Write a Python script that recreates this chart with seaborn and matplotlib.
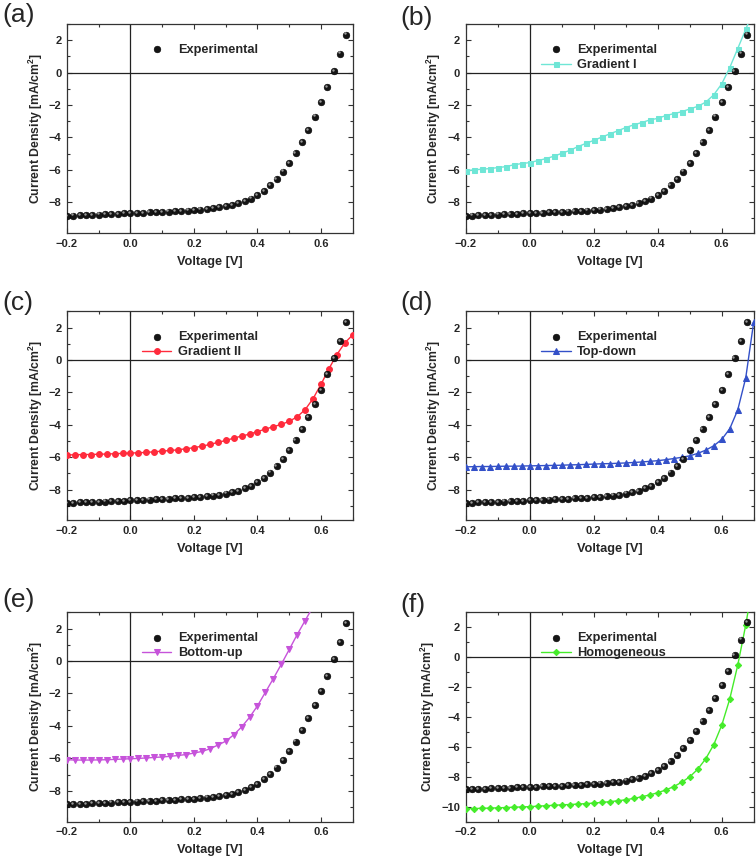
import numpy as np
import matplotlib
matplotlib.use('Agg')
from matplotlib import pyplot as plt
from matplotlib import transforms
from matplotlib.ticker import MultipleLocator
import seaborn as sns

# measured J-V curve (every 0.02 V)
v_exp = [-0.20, -0.18, -0.16, -0.14, -0.12, -0.10, -0.08, -0.06, -0.04, -0.02,
         0.00, 0.02, 0.04, 0.06, 0.08, 0.10, 0.12, 0.14, 0.16, 0.18,
         0.20, 0.22, 0.24, 0.26, 0.28, 0.30, 0.32, 0.34, 0.36, 0.38,
         0.40, 0.42, 0.44, 0.46, 0.48, 0.50, 0.52, 0.54, 0.56, 0.58,
         0.60, 0.62, 0.64, 0.66, 0.68]
j_exp = [-8.83, -8.82, -8.80, -8.79, -8.77, -8.76, -8.74, -8.72, -8.70, -8.69,
         -8.67, -8.66, -8.64, -8.62, -8.61, -8.59, -8.57, -8.55, -8.53, -8.51,
         -8.48, -8.45, -8.41, -8.37, -8.32, -8.25, -8.17, -8.07, -7.93, -7.77,
         -7.56, -7.28, -6.95, -6.56, -6.10, -5.56, -4.96, -4.27, -3.53, -2.71,
         -1.84, -0.90, 0.12, 1.18, 2.35]

# simulated curves (every 0.025 V)
v_sim = [-0.200, -0.175, -0.150, -0.125, -0.100, -0.075, -0.050, -0.025,
         0.000, 0.025, 0.050, 0.075, 0.100, 0.125, 0.150, 0.175,
         0.200, 0.225, 0.250, 0.275, 0.300, 0.325, 0.350, 0.375,
         0.400, 0.425, 0.450, 0.475, 0.500, 0.525, 0.550, 0.575,
         0.600, 0.625, 0.650, 0.675, 0.700]

j_grad1 = [-6.06, -6.00, -5.96, -5.92, -5.86, -5.80, -5.69, -5.61, -5.55, -5.43,
           -5.31, -5.16, -4.98, -4.80, -4.57, -4.37, -4.18, -3.98, -3.78, -3.59,
           -3.39, -3.22, -3.08, -2.92, -2.82, -2.65, -2.53, -2.41, -2.24, -2.08,
           -1.82, -1.37, -0.69, 0.31, 1.49, 2.67, 3.90]
j_grad2 = [-5.86, -5.86, -5.84, -5.84, -5.82, -5.81, -5.79, -5.77, -5.75, -5.73,
           -5.71, -5.67, -5.63, -5.59, -5.55, -5.48, -5.42, -5.32, -5.22, -5.09,
           -4.97, -4.83, -4.70, -4.58, -4.42, -4.27, -4.12, -3.98, -3.79, -3.51,
           -3.07, -2.39, -1.51, -0.54, 0.33, 1.05, 1.55]
j_topdown = [-6.60, -6.59, -6.58, -6.58, -6.57, -6.56, -6.56, -6.55, -6.54, -6.53,
             -6.52, -6.51, -6.50, -6.48, -6.47, -6.45, -6.43, -6.41, -6.40, -6.38,
             -6.36, -6.33, -6.30, -6.26, -6.22, -6.16, -6.09, -6.01, -5.92, -5.77,
             -5.57, -5.30, -4.91, -4.25, -3.09, -1.11, 2.35]
j_bottomup = [-6.08, -6.10, -6.10, -6.10, -6.09, -6.08, -6.06, -6.04, -6.02, -6.00,
              -5.97, -5.94, -5.91, -5.87, -5.82, -5.76, -5.67, -5.57, -5.41, -5.18,
              -4.94, -4.55, -4.06, -3.47, -2.76, -1.92, -1.08, -0.20, 0.71, 1.63,
              2.49, 3.35]
j_homog = [-10.13, -10.12, -10.10, -10.09, -10.07, -10.05, -10.03, -10.01, -9.99, -9.96,
           -9.93, -9.90, -9.87, -9.85, -9.82, -9.79, -9.75, -9.71, -9.66, -9.60,
           -9.53, -9.44, -9.33, -9.21, -9.06, -8.88, -8.65, -8.36, -8.00, -7.49,
           -6.79, -5.85, -4.55, -2.80, -0.54, 2.15, 5.30]

panel_tags = ['(a)', '(b)', '(c)', '(d)', '(e)', '(f)']
sim_names = [None, 'Gradient I', 'Gradient II', 'Top-down', 'Bottom-up', 'Homogeneous']
sim_data = [None, j_grad1, j_grad2, j_topdown, j_bottomup, j_homog]
sim_colors = [None, '#6FE6D6', '#FF2B3C', '#3350C8', '#C653DA', '#45EC2A']
sim_markers = [None, 's', 'o', '^', 'v', 'D']
sim_msize = [None, 3.6, 4.2, 4.2, 4.2, 3.2]
y_bottom = [-9.9, -9.9, -9.9, -9.9, -9.9, -11.0]

sns.set_style('ticks')
plt.rcParams['font.family'] = ['Liberation Sans', 'DejaVu Sans']
plt.rcParams['mathtext.fontset'] = 'custom'
plt.rcParams['mathtext.bf'] = 'Liberation Sans:bold'
plt.rcParams['mathtext.rm'] = 'Liberation Sans:bold'

fig = plt.figure(figsize=(7.56, 8.6), dpi=100)
rects = [[0.0886, 0.729, 0.378, 0.243], [0.616, 0.729, 0.381, 0.243],
         [0.0886, 0.395, 0.378, 0.243], [0.616, 0.395, 0.381, 0.243],
         [0.0886, 0.0445, 0.378, 0.2435], [0.616, 0.0445, 0.381, 0.2435]]
tag_pos = [(0.003, 0.996), (0.530, 0.993), (0.003, 0.662), (0.530, 0.662),
           (0.003, 0.316), (0.530, 0.310)]

for i in range(6):
    ax = fig.add_axes(rects[i])
    ax.axhline(0, color='#222222', lw=0.9, zorder=1)
    ax.axvline(0, color='#222222', lw=0.9, zorder=1)

    # experimental points drawn as shaded balls
    sns.scatterplot(x=v_exp, y=j_exp, ax=ax, s=23, color='#151515',
                    edgecolor='#000000', linewidth=0.4, label='Experimental', zorder=4)
    hl = transforms.offset_copy(ax.transData, fig=fig, x=-0.8, y=0.8, units='points')
    ax.scatter(v_exp, j_exp, s=3, color='#9a9a9a', linewidths=0, transform=hl, zorder=5)

    if sim_data[i] is not None:
        vv = v_sim[:len(sim_data[i])]
        sns.lineplot(x=vv, y=sim_data[i], ax=ax, color=sim_colors[i], lw=1.0,
                     marker=sim_markers[i], markersize=sim_msize[i],
                     markeredgecolor=sim_colors[i], label=sim_names[i], zorder=3)

    ax.set_xlim(-0.2, 0.7)
    ax.set_ylim(y_bottom[i], 3)
    ax.xaxis.set_major_locator(MultipleLocator(0.2))
    ax.xaxis.set_minor_locator(MultipleLocator(0.1))
    ax.yaxis.set_major_locator(MultipleLocator(2))
    ax.yaxis.set_minor_locator(MultipleLocator(1))
    ax.tick_params(which='both', direction='in', top=True, right=True,
                   width=0.8, color='#333333', labelsize=8, pad=4)
    ax.tick_params(which='major', length=3.5)
    ax.tick_params(which='minor', length=2)
    for lab in ax.get_xticklabels() + ax.get_yticklabels():
        lab.set_fontweight('bold')
    for sp in ax.spines.values():
        sp.set_color('#333333')
        sp.set_linewidth(0.9)

    ax.set_xlabel('Voltage [V]', fontsize=9.2, fontweight='bold', labelpad=5)
    ax.set_ylabel(r'Current Density [mA/cm$^\mathbf{2}$]', fontsize=8.8,
                  fontweight='bold', labelpad=3)

    leg = ax.legend(loc='upper left', bbox_to_anchor=(0.245, 0.93), frameon=False,
                    handlelength=2.3, handletextpad=0.5, labelspacing=0.25,
                    borderaxespad=0, prop={'weight': 'bold', 'size': 9.2})

    fig.text(tag_pos[i][0], tag_pos[i][1], panel_tags[i], fontsize=19,
             ha='left', va='top')

plt.savefig('out.png', dpi=100)
